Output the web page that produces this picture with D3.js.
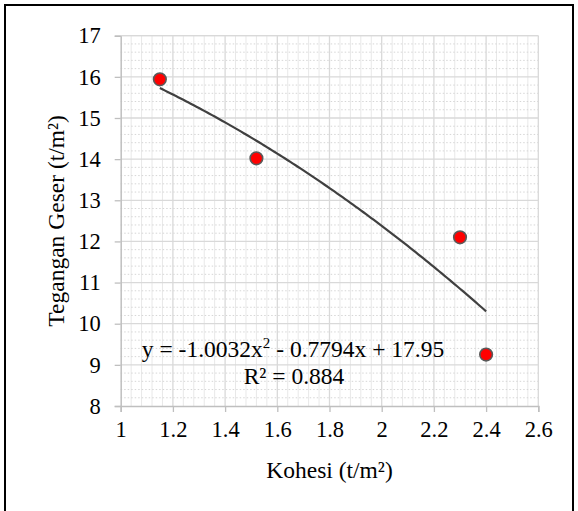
<!DOCTYPE html>
<html>
<head>
<meta charset="utf-8">
<script src="https://cdn.jsdelivr.net/npm/d3@7"></script>
<style>
  html, body { margin: 0; padding: 0; background: #fff; }
  svg { display: block; }
  text { font-family: "Liberation Serif", "Times New Roman", serif; fill: #000; }
</style>
</head>
<body>
<div id="chart"></div>
<script>
// ---- Data ----
const kohesi = [1.15, 1.52, 2.3, 2.4];
const tegangan = [15.94, 14.02, 12.1, 9.25];
const trendCoef = [-1.0032, -0.7794, 17.95]; // a x^2 + b x + c
const xTicks = [1, 1.2, 1.4, 1.6, 1.8, 2, 2.2, 2.4, 2.6];
const yTicks = [8, 9, 10, 11, 12, 13, 14, 15, 16, 17];

const W = 578, H = 511;
const svg = d3.select('#chart').append('svg').attr('width', W).attr('height', H);

// outer frame
svg.append('rect')
  .attr('x', 5).attr('y', 5).attr('width', 568).attr('height', 520)
  .attr('fill', 'none').attr('stroke', '#000').attr('stroke-width', 2);

const x = d3.scaleLinear().domain([1, 2.6]).range([120.7, 538.3]);
const y = d3.scaleLinear().domain([8, 17]).range([406, 35.7]);

// ---- Grid ----
const grid = svg.append('g');
// minor vertical every 0.04
grid.selectAll('.vminor').data(d3.range(1, 2.6001, 0.04).filter((_, i) => i % 5 !== 0))
  .join('line')
  .attr('x1', d => x(d)).attr('x2', d => x(d))
  .attr('y1', y(17)).attr('y2', y(8))
  .attr('stroke', '#e8e8e8').attr('stroke-width', 1);
// minor horizontal every 0.2 (dotted)
grid.selectAll('.hminor').data(d3.range(8, 17.001, 0.2).filter((_, i) => i % 5 !== 0))
  .join('line')
  .attr('x1', x(1)).attr('x2', x(2.6))
  .attr('y1', d => y(d)).attr('y2', d => y(d))
  .attr('stroke', '#d6d6d6').attr('stroke-width', 1).attr('stroke-dasharray', '1.5 2');
// major
grid.selectAll('.vmajor').data(xTicks.slice(1)).join('line')
  .attr('x1', d => x(d)).attr('x2', d => x(d))
  .attr('y1', y(17)).attr('y2', y(8))
  .attr('stroke', '#d9d9d9').attr('stroke-width', 1.3);
grid.selectAll('.hmajor').data(yTicks.slice(1)).join('line')
  .attr('x1', x(1)).attr('x2', x(2.6))
  .attr('y1', d => y(d)).attr('y2', d => y(d))
  .attr('stroke', '#d9d9d9').attr('stroke-width', 1.3);

// ---- Axes ----
const xAxis = svg.append('g')
  .attr('transform', `translate(0,${y(8)})`)
  .call(d3.axisBottom(x).tickValues(xTicks).tickSize(6).tickPadding(9).tickFormat(d3.format('')));
const yAxis = svg.append('g')
  .attr('transform', `translate(${x(1)},0)`)
  .call(d3.axisLeft(y).tickValues(yTicks).tickSize(6).tickPadding(14).tickFormat(d3.format('d')));
[xAxis, yAxis].forEach(a => {
  a.attr('font-family', null).attr('font-size', null);
  a.select('.domain').attr('stroke', '#bfbfbf').attr('stroke-width', 1.5);
  a.selectAll('.tick line').attr('stroke', '#bfbfbf').attr('stroke-width', 1.3);
  a.selectAll('.tick text')
    .style('font-family', '"Liberation Serif", "Times New Roman", serif')
    .style('font-size', '22.5px').attr('fill', '#000');
});
// outer plot-area edge
svg.append('line').attr('x1', x(1)).attr('x2', x(2.6)).attr('y1', y(17)).attr('y2', y(17))
  .attr('stroke', '#d9d9d9').attr('stroke-width', 1.3);

// ---- Trend line ----
const poly = v => trendCoef[0] * v * v + trendCoef[1] * v + trendCoef[2];
const xs = d3.range(kohesi[0], kohesi[kohesi.length - 1] + 1e-9, 0.01);
svg.append('path')
  .datum(xs)
  .attr('d', d3.line().x(d => x(d)).y(d => y(poly(d))))
  .attr('fill', 'none').attr('stroke', '#404040').attr('stroke-width', 2.2);

// ---- Points ----
svg.selectAll('.pt').data(kohesi).join('circle')
  .attr('cx', d => x(d)).attr('cy', (_, i) => y(tegangan[i]))
  .attr('r', 6.3)
  .attr('fill', '#ff0000').attr('stroke', '#595959').attr('stroke-width', 1.6);

// ---- Equation labels ----
const eq = svg.append('text').attr('x', 293).attr('y', 357).attr('text-anchor', 'middle')
  .style('font-size', '23.5px');
eq.append('tspan').text('y = -1.0032x');
eq.append('tspan').style('font-size', '15px').attr('dy', -9).text('2');
eq.append('tspan').attr('dy', 9).text(' - 0.7794x + 17.95');
svg.append('text').attr('x', 294).attr('y', 384).attr('text-anchor', 'middle')
  .style('font-size', '23.5px')
  .text('R² = 0.884');

// ---- Axis titles ----
svg.append('text').attr('x', x(1.8)).attr('y', 478).attr('text-anchor', 'middle')
  .style('font-size', '23.5px')
  .text('Kohesi (t/m²)');
svg.append('text')
  .attr('transform', `translate(64,${(y(8) + y(17)) / 2}) rotate(-90)`)
  .attr('text-anchor', 'middle')
  .style('font-size', '23.5px')
  .text('Tegangan Geser (t/m²)');
</script>
</body>
</html>
